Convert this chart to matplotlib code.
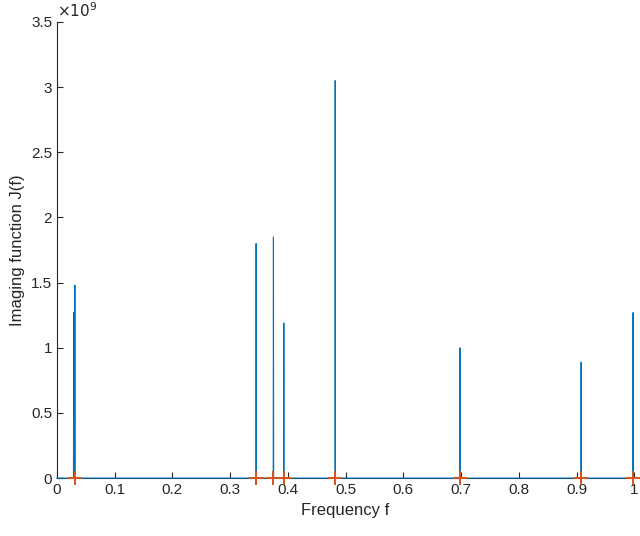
import matplotlib
matplotlib.use("Agg")
import matplotlib.pyplot as plt
import numpy as np

plt.rcParams['font.family'] = ['Liberation Sans', 'DejaVu Sans']

# peak frequencies and heights (units of 1e9)
peak_f = [0.029, 0.031, 0.345, 0.375, 0.393, 0.482, 0.698, 0.908, 0.998]
peak_v = [1.27, 1.48, 1.80, 1.85, 1.19, 3.05, 1.00, 0.89, 1.27]
marker_f = [0.031, 0.345, 0.375, 0.393, 0.482, 0.698, 0.908, 0.998]


def main():
    eps = 0.0004
    xs, ys = [0.0], [0.0]
    for f, v in zip(peak_f, peak_v):
        xs += [f - eps, f, f + eps]
        ys += [0.0, v * 1e9, 0.0]
    xs.append(1.0)
    ys.append(0.0)

    fig = plt.figure(figsize=(6.4, 5.36), dpi=100)
    ax = fig.add_axes([0.089, 0.108, 0.902, 0.851])
    ax.plot(xs, ys, color='#0072BD', linewidth=0.8, zorder=3, clip_on=False)
    ax.plot(marker_f, np.zeros(len(marker_f)), '+', color='#D95319',
            markersize=10, markeredgewidth=1.4, clip_on=False, zorder=4)

    ax.set_xlim(0, 1)
    ax.set_ylim(0, 3.5e9)
    ax.set_xticks(np.arange(0, 1.01, 0.1))
    ax.set_xticklabels(['0', '0.1', '0.2', '0.3', '0.4', '0.5', '0.6', '0.7', '0.8', '0.9', '1'])
    ax.set_yticks(np.arange(0, 3.51e9, 0.5e9))
    ax.set_yticklabels(['0', '0.5', '1', '1.5', '2', '2.5', '3', '3.5'])
    ax.text(0.0, 1.005, r'$\times10^{9}$', transform=ax.transAxes, fontsize=11,
            va='bottom', ha='left', color='#262626')

    for s in ['top', 'right']:
        ax.spines[s].set_visible(False)
    for s in ['left', 'bottom']:
        ax.spines[s].set_color('#262626')
        ax.spines[s].set_zorder(1)
    ax.tick_params(direction='in', labelsize=11, colors='#262626', length=4)
    ax.set_xlabel('Frequency f', fontsize=12, color='#262626')
    ax.set_ylabel('Imaging function J(f)', fontsize=12, color='#262626')

    fig.savefig('out.png', dpi=100)


if __name__ == "__main__":
    main()
